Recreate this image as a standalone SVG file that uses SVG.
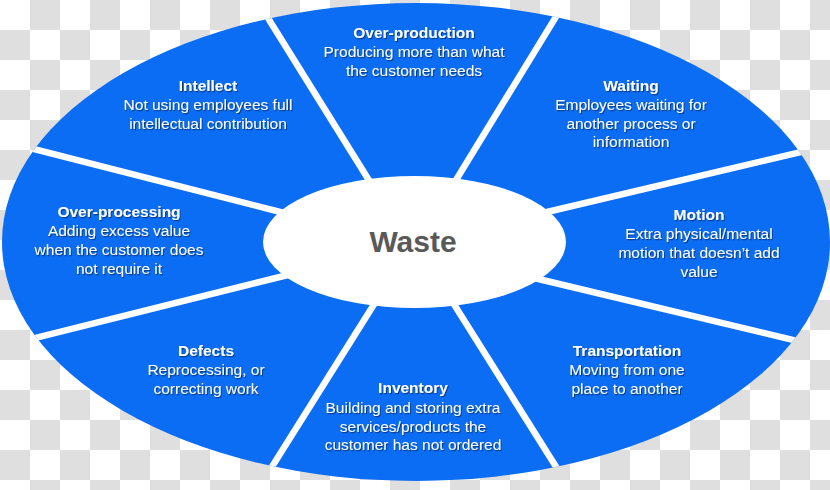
<svg xmlns="http://www.w3.org/2000/svg" width="830" height="490" viewBox="0 0 830 490">
  <defs>
    <pattern id="checker" x="0" y="0" width="60" height="60" patternUnits="userSpaceOnUse">
      <rect width="60" height="60" fill="#ffffff"/>
      <rect x="30" y="0" width="30" height="30" fill="#dfdfdf"/>
      <rect x="0" y="30" width="30" height="30" fill="#dfdfdf"/>
    </pattern>
    <clipPath id="outerClip">
      <ellipse cx="416" cy="242" rx="414" ry="239"/>
    </clipPath>
    <filter id="shadow" x="-10%" y="-30%" width="120%" height="160%">
      <feDropShadow dx="1" dy="1.2" stdDeviation="0.7" flood-color="#000000" flood-opacity="0.45"/>
    </filter>
  </defs>
  <style>
    .seg { fill: #0b6cf4; }
    .sep { stroke: #ffffff; stroke-width: 6.5; stroke-linecap: butt; fill: none; }
    .lbl { font-family: "Liberation Sans", Arial, sans-serif; font-size: 15.5px; fill: #ffffff; text-anchor: middle; filter: url(#shadow); }
    .ttl { font-weight: bold; }
    .hub { fill: #ffffff; }
    .hubtxt { font-family: "Liberation Sans", Arial, sans-serif; font-size: 30px; font-weight: bold; fill: #595959; text-anchor: middle; }
  </style>

  <rect width="830" height="490" fill="url(#checker)"/>

  <ellipse class="seg" cx="416" cy="242" rx="414" ry="239"/>

  <g id="connectors" clip-path="url(#outerClip)">
    <line class="sep" x1="258" y1="2" x2="380" y2="198"/>
    <line class="sep" x1="565" y1="2" x2="445" y2="198"/>
    <line class="sep" x1="835" y1="144" x2="530" y2="216"/>
    <line class="sep" x1="835" y1="350" x2="530" y2="277"/>
    <line class="sep" x1="570" y1="489" x2="445" y2="290"/>
    <line class="sep" x1="258" y1="489" x2="383" y2="290"/>
    <line class="sep" x1="-5" y1="348" x2="300" y2="272"/>
    <line class="sep" x1="-5" y1="139" x2="300" y2="217"/>
  </g>

  <g id="over-production">
    <text class="lbl" x="414" y="38"><tspan class="ttl" x="414">Over-production</tspan><tspan x="414" y="57">Producing more than what</tspan><tspan x="414" y="76">the customer needs</tspan></text>
  </g>

  <g id="waiting">
    <text class="lbl" x="631" y="91"><tspan class="ttl" x="631">Waiting</tspan><tspan x="631" y="110">Employees waiting for</tspan><tspan x="631" y="128.5">another process or</tspan><tspan x="631" y="147">information</tspan></text>
  </g>

  <g id="motion">
    <text class="lbl" x="699" y="220"><tspan class="ttl" x="699">Motion</tspan><tspan x="699" y="239">Extra physical/mental</tspan><tspan x="699" y="258">motion that doesn’t add</tspan><tspan x="699" y="277">value</tspan></text>
  </g>

  <g id="transportation">
    <text class="lbl" x="627" y="356"><tspan class="ttl" x="627">Transportation</tspan><tspan x="627" y="375">Moving from one</tspan><tspan x="627" y="393.5">place to another</tspan></text>
  </g>

  <g id="inventory">
    <text class="lbl" x="413" y="393"><tspan class="ttl" x="413">Inventory</tspan><tspan x="413" y="412.5">Building and storing extra</tspan><tspan x="413" y="431.5">services/products the</tspan><tspan x="413" y="450">customer has not ordered</tspan></text>
  </g>

  <g id="defects">
    <text class="lbl" x="206" y="356"><tspan class="ttl" x="206">Defects</tspan><tspan x="206" y="375">Reprocessing, or</tspan><tspan x="206" y="394">correcting work</tspan></text>
  </g>

  <g id="over-processing">
    <text class="lbl" x="119" y="217"><tspan class="ttl" x="119">Over-processing</tspan><tspan x="119" y="236">Adding excess value</tspan><tspan x="119" y="254.5">when the customer does</tspan><tspan x="119" y="273.5">not require it</tspan></text>
  </g>

  <g id="intellect">
    <text class="lbl" x="208" y="91"><tspan class="ttl" x="208">Intellect</tspan><tspan x="208" y="110">Not using employees full</tspan><tspan x="208" y="129">intellectual contribution</tspan></text>
  </g>

  <g id="waste">
    <ellipse class="hub" cx="414.5" cy="242" rx="151.5" ry="66"/>
    <text class="hubtxt" x="413" y="252">Waste</text>
  </g>
</svg>
